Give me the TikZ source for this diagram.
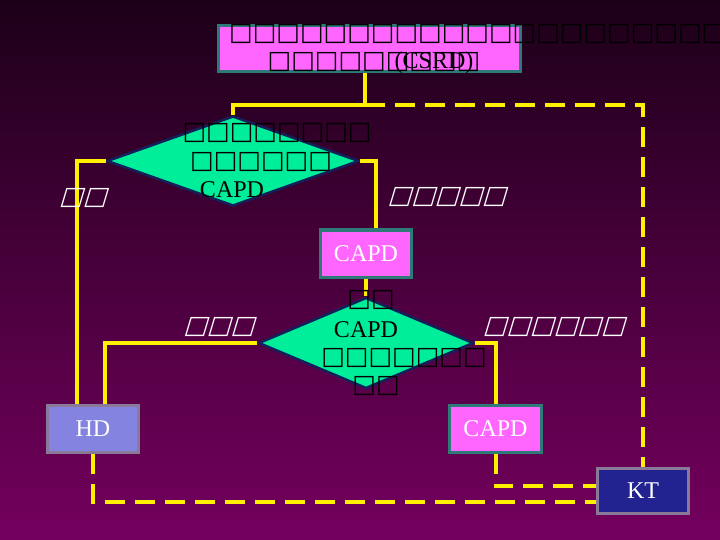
\documentclass[tikz,border=0pt]{standalone}
\usepackage{fontspec}
\setmainfont{Liberation Serif}
\newfontfamily\tofu{DejaVu Sans Bold}
\newfontfamily\tofusl[FakeSlant=0.3]{DejaVu Sans Bold}
\usetikzlibrary{shapes.geometric}
\definecolor{bgtop}{HTML}{1C0018}
\definecolor{bgbot}{HTML}{74005E}
\definecolor{magbox}{HTML}{FF66FF}
\definecolor{tealedge}{HTML}{2E7A78}
\definecolor{mint}{HTML}{00EE99}
\definecolor{navyedge}{HTML}{14205A}
\definecolor{hdfill}{HTML}{8484E0}
\definecolor{greyedge}{HTML}{8A7A9A}
\definecolor{ktfill}{HTML}{222290}
\definecolor{flowc}{HTML}{FFF000}
\begin{document}
\begin{tikzpicture}[x=1pt,y=-1pt,
  pinkbox/.style={draw=tealedge,line width=3pt,fill=magbox,inner sep=0pt,minimum width=91pt,minimum height=47pt,font=\fontsize{24}{24}\selectfont,text=white},
  hdbox/.style={draw=greyedge,line width=3pt,fill=hdfill,inner sep=0pt,minimum width=91pt,minimum height=47pt,font=\fontsize{24}{24}\selectfont,text=white},
  ktbox/.style={draw=greyedge,line width=3pt,fill=ktfill,inner sep=0pt,minimum width=91pt,minimum height=45pt,font=\fontsize{24}{24}\selectfont,text=white},
  decision/.style={diamond,draw=navyedge,line width=2.5pt,fill=mint,inner sep=0pt},
  boxrow/.style={inner sep=0pt,font=\tofu\fontsize{25}{25}\selectfont,text=black},
  slrow/.style={inner sep=0pt,font=\tofusl\fontsize{25}{25}\selectfont,text=white},
  serif/.style={inner sep=0pt,font=\fontsize{24}{24}\selectfont,text=black},
  flow/.style={draw=flowc,line width=4pt},
  flowdash/.style={draw=flowc,line width=4pt,dash pattern=on 20pt off 10pt}]
\shade[top color=bgtop,bottom color=bgbot] (0,0) rectangle (720,540);
\useasboundingbox (0,0) rectangle (720,540);
% nodes
\node[pinkbox,minimum width=302pt,minimum height=46pt] (top) at (369,49) {};
\node[decision,minimum width=252pt,minimum height=90pt] (d1) at (233,161) {};
\node[pinkbox] (c1) at (366,253.5) {CAPD};
\node[decision,minimum width=215pt,minimum height=91pt] (d2) at (366,343) {};
\node[hdbox] (hd) at (93,429) {HD};
\node[pinkbox,minimum width=92pt] (c2) at (495.5,428.5) {CAPD};
\node[ktbox] (kt) at (643,490.5) {KT};
% connectors
\coordinate (j1) at (365,105);
\draw[flow] (top.south -| j1) -- (j1) -| (d1.north);
\draw[flowdash] (j1) -| (kt.north);
\draw[flow] (d1.west) -| ([xshift=-16pt]hd.north);
\draw[flow] (d1.east) -| ([xshift=10pt]c1.north);
\draw[flow] (c1.south) -- (d2.north);
\draw[flow] (d2.west) -| ([xshift=12pt]hd.north);
\draw[flow] (d2.east) -| (c2.north);
\draw[flowdash] (c2.south) |- ([yshift=4.5pt]kt.west);
\draw[flowdash] (hd.south) |- ([yshift=-11.5pt]kt.west);
% texts
\node[boxrow,anchor=west] (t1) at (229,34) {□□□□□□□□□□□□□□□□□□□□□□};
\node[boxrow] (t2) at (374,62) {□□□□□□□□□};
\node[serif] (t3) at (434,63) {(CSRD)};
\node[boxrow] (a1) at (277,133) {□□□□□□□□};
\node[boxrow] (a2) at (261,162) {□□□□□□};
\node[serif] (a3) at (232,190) {CAPD};
\node[boxrow] (b1) at (371,300) {□□};
\node[serif] (b2) at (366,330) {CAPD};
\node[boxrow] (b3) at (404,358) {□□□□□□□};
\node[boxrow] (b4) at (376,386) {□□};
\node[slrow] (l1) at (83,198) {□□};
\node[slrow] (l2) at (447,197) {□□□□□};
\node[slrow] (l3) at (219,327) {□□□};
\node[slrow] (l4) at (554,327) {□□□□□□};
\end{tikzpicture}
\end{document}
